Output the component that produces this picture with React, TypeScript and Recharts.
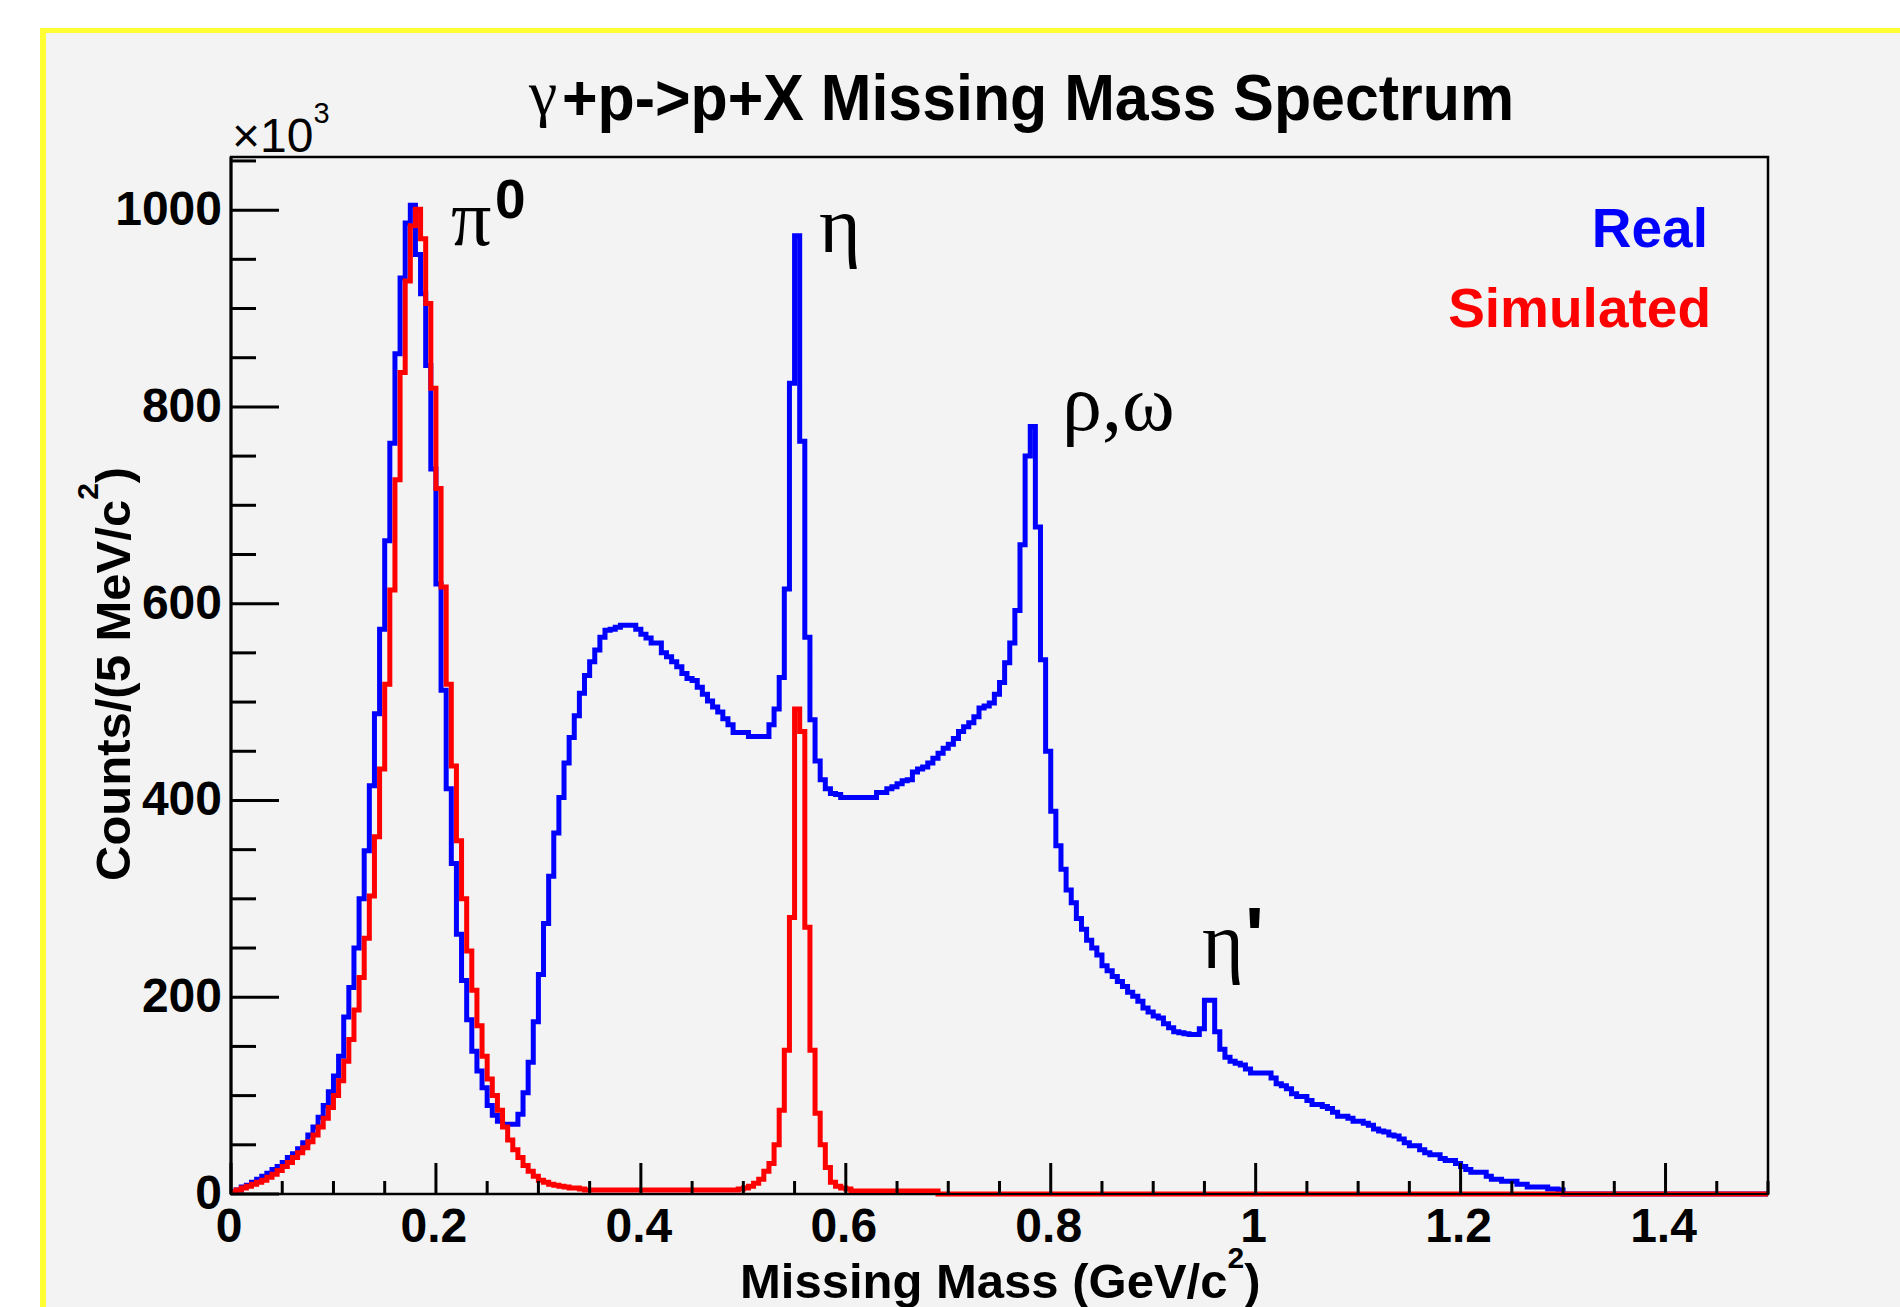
import React from "react";
import { LineChart, Line, XAxis, YAxis, ReferenceArea } from "recharts";

// 300 bins of 5 MeV/c^2 from 0 to 1.5 GeV/c^2
const binWidth = 0.005;

// counts per bin in units of 10^3
const realCounts = [
  2, 4, 7, 9, 12, 15, 18, 21, 25, 28, 32, 37, 41, 46, 52, 60, 68, 78, 90, 104,
  120, 140, 180, 210, 250, 300, 349, 415, 488, 574, 664, 763, 854, 931, 987, 1005, 955, 915, 842, 737,
  620, 512, 412, 336, 264, 217, 177, 145, 125, 108, 90, 80, 74, 71, 71, 71, 81, 103, 134, 175,
  223, 275, 323, 367, 403, 438, 464, 486, 509, 527, 541, 553, 566, 573, 574, 576, 578, 578, 578, 574,
  569, 565, 560, 560, 550, 546, 541, 536, 529, 524, 522, 515, 508, 501, 495, 490, 483, 477, 469, 469,
  469, 465, 465, 465, 465, 477, 493, 525, 615, 824, 974, 765, 566, 482, 440, 421, 412, 407, 406, 403,
  403, 403, 403, 403, 403, 403, 408, 408, 412, 414, 417, 420, 421, 429, 432, 434, 438, 443, 448, 453,
  457, 463, 470, 475, 479, 485, 494, 496, 499, 508, 520, 540, 560, 593, 660, 750, 780, 678, 543, 450,
  389, 354, 330, 309, 296, 280, 269, 258, 250, 243, 232, 227, 221, 216, 211, 205, 201, 196, 189, 185,
  181, 179, 173, 169, 165, 164, 163, 162, 162, 168, 197, 197, 165, 147, 139, 135, 133, 131, 127, 123,
  123, 123, 123, 118, 112, 110, 107, 102, 99, 99, 95, 91, 91, 89, 87, 83, 79, 79, 77, 74,
  74, 72, 70, 66, 64, 63, 60, 59, 56, 52, 49, 49, 45, 42, 40, 40, 36, 34, 34, 31,
  28, 25, 22, 22, 22, 18, 15, 15, 13, 13, 13, 10, 10, 7, 7, 7, 7, 5, 5, 4,
  0, 0, 0, 0, 0, 0, 0, 0, 0, 0, 0, 0, 0, 0, 0, 0, 0, 0, 0, 0,
  0, 0, 0, 0, 0, 0, 0, 0, 0, 0, 0, 0, 0, 0, 0, 0, 0, 0, 0, 0,
];

const simCounts = [
  2, 4, 6, 8, 10, 12, 14, 17, 20, 24, 28, 32, 37, 42, 47, 53, 60, 68, 77, 88,
  100, 115, 135, 157, 187, 220, 260, 303, 363, 432, 518, 614, 726, 835, 928, 984, 1001, 971, 905, 819,
  717, 617, 518, 435, 359, 300, 247, 207, 171, 140, 117, 100, 85, 68, 55, 45, 37, 29, 23, 18,
  14, 12, 10, 9, 8, 7, 6, 6, 5, 4, 4, 4, 4, 4, 4, 4, 4, 4, 4, 4,
  4, 4, 4, 4, 4, 4, 4, 4, 4, 4, 4, 4, 4, 4, 4, 4, 4, 4, 4, 5,
  6, 8, 11, 15, 23, 31, 50, 85, 146, 281, 493, 470, 271, 146, 82, 50, 27, 12, 8, 6,
  5, 3, 3, 3, 3, 3, 3, 3, 3, 3, 3, 3, 3, 3, 3, 3, 3, 3, 0, 0,
  0, 0, 0, 0, 0, 0, 0, 0, 0, 0, 0, 0, 0, 0, 0, 0, 0, 0, 0, 0,
  0, 0, 0, 0, 0, 0, 0, 0, 0, 0, 0, 0, 0, 0, 0, 0, 0, 0, 0, 0,
  0, 0, 0, 0, 0, 0, 0, 0, 0, 0, 0, 0, 0, 0, 0, 0, 0, 0, 0, 0,
  0, 0, 0, 0, 0, 0, 0, 0, 0, 0, 0, 0, 0, 0, 0, 0, 0, 0, 0, 0,
  0, 0, 0, 0, 0, 0, 0, 0, 0, 0, 0, 0, 0, 0, 0, 0, 0, 0, 0, 0,
  0, 0, 0, 0, 0, 0, 0, 0, 0, 0, 0, 0, 0, 0, 0, 0, 0, 0, 0, 0,
  0, 0, 0, 0, 0, 0, 0, 0, 0, 0, 0, 0, 0, 0, 0, 0, 0, 0, 0, 0,
  0, 0, 0, 0, 0, 0, 0, 0, 0, 0, 0, 0, 0, 0, 0, 0, 0, 0, 0, 0,
];

const xTicks = [
  0, 0.05, 0.1, 0.15, 0.2, 0.25, 0.3, 0.35, 0.4, 0.45, 0.5, 0.55, 0.6, 0.65, 0.7, 0.75,
  0.8, 0.85, 0.9, 0.95, 1, 1.05, 1.1, 1.15, 1.2, 1.25, 1.3, 1.35, 1.4, 1.45, 1.5,
];
const xLabels = [0, 0.2, 0.4, 0.6, 0.8, 1, 1.2, 1.4];
const yTicks = [
  0, 50, 100, 150, 200, 250, 300, 350, 400, 450, 500, 550, 600, 650, 700, 750, 800, 850, 900,
  950, 1000, 1050,
];
const yLabels = [0, 200, 400, 600, 800, 1000];

const data = realCounts.map((v, i) => ({
  m: +(i * binWidth).toFixed(3),
  real: v,
  sim: simCounts[i],
}));
data.push({ m: 1.5, real: realCounts[realCounts.length - 1], sim: simCounts[simCounts.length - 1] });

const sans = "'Liberation Sans', Arial, Helvetica, sans-serif";
const serif = "'Liberation Serif', 'Times New Roman', serif";

const XTick = (props: any) => {
  const { x, y, payload } = props;
  const major = xLabels.includes(payload.value);
  return (
    <g>
      <line x1={x} y1={y} x2={x} y2={y - (major ? 31 : 13)} stroke="#000" strokeWidth={3} />
      {major && (
        <text x={x - 2} y={y + 48} textAnchor="middle" fontFamily={sans} fontWeight="bold" fontSize={48} fill="#000">
          {payload.value}
        </text>
      )}
    </g>
  );
};

const YTick = (props: any) => {
  const { x, y, payload } = props;
  const major = yLabels.includes(payload.value);
  return (
    <g>
      <line x1={x} y1={y} x2={x + (major ? 48 : 25)} y2={y} stroke="#000" strokeWidth={3} />
      {major && (
        <text x={x - 9} y={y + 15} textAnchor="end" fontFamily={sans} fontWeight="bold" fontSize={48} fill="#000">
          {payload.value}
        </text>
      )}
    </g>
  );
};

export default function App() {
  return (
    <div style={{ position: "absolute", left: 0, top: 0, width: 1900, height: 1307, background: "#fff", overflow: "hidden" }}>
      <div
        style={{
          position: "absolute",
          left: 40,
          top: 28,
          width: 1900,
          height: 1400,
          background: "#f3f3f3",
          borderTop: "5px solid #ffff33",
          borderLeft: "6px solid #ffff33",
        }}
      />
      <div style={{ position: "absolute", left: 0, top: 0 }}>
        <LineChart width={1900} height={1307} data={data} margin={{ top: 157, right: 132, bottom: 53, left: 131 }}>
          <XAxis
            dataKey="m"
            type="number"
            domain={[0, 1.5]}
            ticks={xTicks}
            interval={0}
            height={60}
            tickLine={false}
            tickSize={0}
            tickMargin={0}
            axisLine={{ stroke: "#000", strokeWidth: 2 }}
            tick={(p: any) => <XTick {...p} />}
          />
          <YAxis
            type="number"
            domain={[0, 1054]}
            ticks={yTicks}
            interval={0}
            width={100}
            tickLine={false}
            tickSize={0}
            tickMargin={0}
            axisLine={{ stroke: "#000", strokeWidth: 3 }}
            tick={(p: any) => <YTick {...p} />}
          />
          <ReferenceArea x1={0} x2={1.5} y1={0} y2={1054} fill="none" fillOpacity={0} stroke="#000" strokeWidth={2.5} />
          <Line dataKey="real" type="stepAfter" stroke="#0000ff" strokeWidth={5} dot={false} isAnimationActive={false} />
          <Line dataKey="sim" type="stepAfter" stroke="#ff0000" strokeWidth={5} dot={false} isAnimationActive={false} />
        </LineChart>
      </div>
      <svg width={1900} height={1307} style={{ position: "absolute", left: 0, top: 0, pointerEvents: "none" }}>
        {/* title */}
        <text x={529} y={114} fontFamily={serif} fontSize={64} fill="#000">γ</text>
        <text x={562} y={120} fontFamily={sans} fontWeight="bold" fontSize={64} fill="#000" textLength={952} lengthAdjust="spacingAndGlyphs">
          +p-&gt;p+X Missing Mass Spectrum
        </text>
        {/* exponent */}
        <text x={232} y={152} fontFamily={sans} fontSize={48} fill="#000">
          ×10<tspan dy={-29} fontSize={29}>3</tspan>
        </text>
        {/* axis titles */}
        <text x={740} y={1298} fontFamily={sans} fontWeight="bold" fontSize={49} fill="#000">
          Missing Mass (GeV/c<tspan dy={-30} fontSize={30}>2</tspan>
          <tspan dy={30}>)</tspan>
        </text>
        <text transform="translate(130,881) rotate(-90)" fontFamily={sans} fontWeight="bold" fontSize={49} fill="#000">
          Counts/(5 MeV/c<tspan dy={-32} fontSize={30}>2</tspan>
          <tspan dy={32}>)</tspan>
        </text>
        {/* legend */}
        <text x={1708} y={247} textAnchor="end" fontFamily={sans} fontWeight="bold" fontSize={55} fill="#0000ff">Real</text>
        <text x={1711} y={327} textAnchor="end" fontFamily={sans} fontWeight="bold" fontSize={55} fill="#ff0000">Simulated</text>
        {/* peak labels */}
        <text x={451} y={245} fontFamily={serif} fontSize={80} fill="#000">π</text>
        <text x={495} y={218} fontFamily={sans} fontWeight="bold" fontSize={55} fill="#000">0</text>
        <text x={819} y={252} fontFamily={serif} fontSize={80} fill="#000">η</text>
        <text x={1062} y={430} fontFamily={serif} fontSize={80} fill="#000">ρ,ω</text>
        <text x={1202} y={968} fontFamily={serif} fontSize={80} fill="#000">η</text>
        <text x={1245} y={963} fontFamily={sans} fontWeight="bold" fontSize={80} fill="#000">'</text>
      </svg>
    </div>
  );
}
